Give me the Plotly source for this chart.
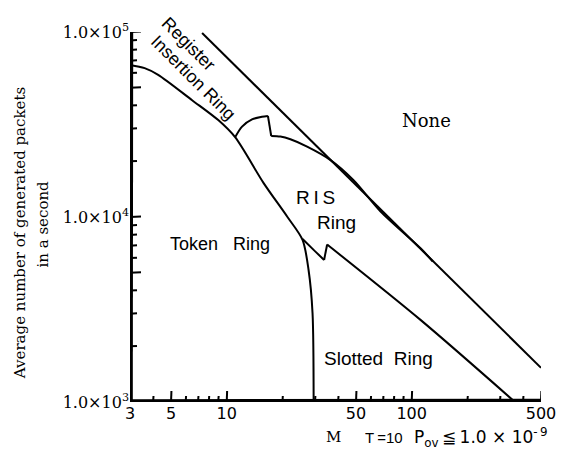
import math
import plotly.graph_objects as go

# Boundary between "None" and the ring regions (straight in log-log)
upper_m = [7.36, 500]
upper_rate = [98800, 1530]

# Token Ring upper boundary, ending in a vertical drop near M = 29.5
token_m = [3, 3.6, 4.26, 6.5, 9.0, 11.1, 15.8, 21.3, 25.7, 27.7, 29.1, 29.5]
token_rate = [66400, 63800, 58700, 42800, 33400, 27000, 15300, 10000, 7520, 5170, 3030, 1000]

# Register Insertion Ring / RIS Ring boundary (arc, drop, then merge)
ris_arc_m = [11.1, 12.1, 13.7, 15.5, 16.7]
ris_arc_rate = [27000, 30800, 33700, 34800, 35200]
ris_drop_m = [16.7, 17.4]
ris_drop_rate = [35200, 27400]
ris_tail_m = [17.4, 19.5, 22.1, 27.2, 36.4, 48.5, 67.9, 112, 130]
ris_tail_rate = [27400, 27200, 26300, 24000, 20300, 15800, 10700, 6750, 5750]

# RIS Ring / Slotted Ring boundary (notch, then nearly straight)
slot_notch_m = [25.7, 29.5, 33.6]
slot_notch_rate = [7600, 6640, 5860]
slot_rise_m = [33.6, 34.9]
slot_rise_rate = [5860, 7100]
slot_tail_m = [34.9, 112, 366]
slot_tail_rate = [7100, 2770, 990]

x_tickvals = [3, 5, 10, 50, 100, 500]
x_ticktext = ["3", "5", "10", "50", "100", "500"]
x_minor = [4, 6, 7, 8, 9, 20, 30, 40, 60, 70, 80, 90, 200, 300, 400]
y_tickvals = [1e3, 5e3, 1e4, 5e4, 1e5]
y_ticktext = ["1.0×10<sup>3</sup>", "", "1.0×10<sup>4</sup>", "", "1.0×10<sup>5</sup>"]
y_minor = [2e3, 3e3, 4e3, 6e3, 7e3, 8e3, 9e3, 2e4, 3e4, 4e4, 6e4, 7e4, 8e4, 9e4]

SANS = "Liberation Sans, Arial, sans-serif"
WIDE_SANS = "DejaVu Sans, sans-serif"
SERIF = "DejaVu Serif, serif"
INK = "#000000"

WIDTH, HEIGHT = 568, 453
MARGIN = dict(l=130, r=27, t=32, b=51)
X_RANGE = [math.log10(3), math.log10(500)]
Y_RANGE = [3, 5]
# pixels per decade on each axis, used to express pixel offsets in data units
X_PX_DEC = (WIDTH - MARGIN["l"] - MARGIN["r"]) / (X_RANGE[1] - X_RANGE[0])
Y_PX_DEC = (HEIGHT - MARGIN["t"] - MARGIN["b"]) / (Y_RANGE[1] - Y_RANGE[0])
X_MIN, X_MAX = 10 ** X_RANGE[0], 10 ** X_RANGE[1]
Y_MIN, Y_MAX = 10 ** Y_RANGE[0], 10 ** Y_RANGE[1]
LEAN = 0.4  # sub-pixel lean given to axis and tick strokes


def xs_px(v, px):
    """x value moved by px pixels along the log axis."""
    return v * 10 ** (px / X_PX_DEC)


def ys_px(v, px):
    """y value moved by px pixels along the log axis."""
    return v * 10 ** (px / Y_PX_DEC)


# All line work goes into one path: curve segments, then axes and ticks,
# separated by gaps so each segment is smoothed on its own.
segments = [
    (upper_m, upper_rate),
    (token_m, token_rate),
    (ris_arc_m, ris_arc_rate),
    (ris_drop_m, ris_drop_rate),
    (ris_tail_m, ris_tail_rate),
    (slot_notch_m, slot_notch_rate),
    (slot_rise_m, slot_rise_rate),
    (slot_tail_m, slot_tail_rate),
]

# axis lines, thickened by doubling just inside the plot edge
for off in (0.6, 1.8):
    segments.append(([xs_px(X_MIN, off), xs_px(X_MIN, off + LEAN)], [Y_MIN, Y_MAX]))
    segments.append(([X_MIN, X_MAX], [ys_px(Y_MIN, off), ys_px(Y_MIN, off + LEAN)]))

for vals, length in ((x_tickvals[1:], 11), (x_minor, 6)):
    for v in vals:
        segments.append(([v, xs_px(v, LEAN)], [Y_MIN, ys_px(Y_MIN, length)]))
for vals, length in ((y_tickvals[1:], 11), (y_minor, 7)):
    for v in vals:
        segments.append(([X_MIN, xs_px(X_MIN, length)], [v, ys_px(v, LEAN)]))

all_x, all_y = [], []
for xs, ys in segments:
    all_x += list(xs) + [None]
    all_y += list(ys) + [None]

fig = go.Figure(go.Scatter(
    x=all_x, y=all_y, mode="lines", connectgaps=False, cliponaxis=False,
    line=dict(color=INK, width=2, shape="spline", smoothing=0.8),
    hoverinfo="skip", showlegend=False,
))


def label(text, m, rate, size=18, font=SANS, angle=0):
    fig.add_annotation(
        x=math.log10(m), y=math.log10(rate), xref="x", yref="y",
        text=text, showarrow=False, textangle=angle,
        font=dict(family=font, size=size, color=INK),
        xanchor="center", yanchor="middle",
    )


label("Register", 6.22, 86100, angle=45)
label("Insertion\u00a0Ring", 6.63, 56700, angle=45)
label("None", 119.7, 33400, size=18, font=SERIF)
label("Token\u00a0\u00a0\u00a0Ring", 9.23, 7150)
label("R\u2009I\u2009S", 30.3, 12800, size=19)
label("Ring", 39.4, 9290, size=19)
label("Slotted\u00a0\u00a0Ring", 65.9, 1710, size=19)


def paper_text(text, x, y, font, size, angle=0, xanchor="center"):
    fig.add_annotation(x=x, y=y, xref="paper", yref="paper", text=text,
                       textangle=angle, showarrow=False,
                       xanchor=xanchor, yanchor="middle",
                       font=dict(family=font, size=size, color=INK))


# Axis titles
paper_text("Average number of generated packets", -0.268, 0.456, SERIF, 15, angle=-90)
paper_text("in a second", -0.212, 0.482, SERIF, 15, angle=-90)
paper_text("M", 0.496, -0.0946, SERIF, 15)
paper_text("T\u2009=10", 0.567, -0.0946, SANS, 15, xanchor="left")
paper_text("P<sub>ov</sub>\u2009\u2266\u20091.0\u00a0×\u00a010<sup>-\u20099</sup>",
           0.686, -0.0946, WIDE_SANS, 17, xanchor="left")

fig.update_layout(
    width=WIDTH, height=HEIGHT,
    margin=MARGIN,
    paper_bgcolor="white", plot_bgcolor="white",
    showlegend=False,
    xaxis=dict(type="log", range=X_RANGE, showline=False, showgrid=False,
               zeroline=False, ticks="", tickmode="array",
               tickvals=x_tickvals, ticktext=x_ticktext,
               tickfont=dict(family=WIDE_SANS, size=16, color=INK)),
    yaxis=dict(type="log", range=Y_RANGE, showline=False, showgrid=False,
               zeroline=False, ticks="", tickmode="array",
               tickvals=y_tickvals, ticktext=y_ticktext,
               tickfont=dict(family=SERIF, size=16, color=INK)),
)

fig.write_html("out.html")
